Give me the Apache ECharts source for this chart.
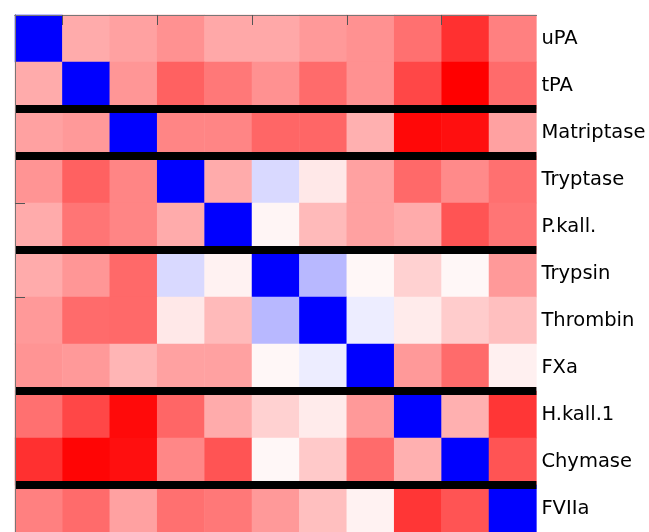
<!DOCTYPE html>
<html><head><meta charset="utf-8">
<script src="https://cdn.jsdelivr.net/npm/echarts@6/dist/echarts.min.js"></script>
<style>html,body{margin:0;padding:0;background:#fff}#c{width:649px;height:532px}</style>
</head><body><div id="c"></div>
<script>
const proteases = ['uPA','tPA','Matriptase','Tryptase','P.kall.','Trypsin','Thrombin','FXa','H.kall.1','Chymase','FVIIa'];
const row_uPA        = [-1, 0.33, 0.37, 0.43, 0.34, 0.34, 0.40, 0.43, 0.56, 0.81, 0.50];
const row_tPA        = [0.33, -1, 0.41, 0.62, 0.53, 0.43, 0.58, 0.43, 0.72, 1.00, 0.58];
const row_Matriptase = [0.37, 0.40, -1, 0.48, 0.48, 0.60, 0.60, 0.31, 0.97, 0.94, 0.37];
const row_Tryptase   = [0.42, 0.62, 0.48, -1, 0.33, -0.15, 0.09, 0.37, 0.59, 0.46, 0.56];
const row_Pkall      = [0.33, 0.54, 0.48, 0.33, -1, 0.04, 0.27, 0.37, 0.33, 0.67, 0.54];
const row_Trypsin    = [0.33, 0.41, 0.59, -0.15, 0.05, -1, -0.28, 0.03, 0.18, 0.03, 0.40];
const row_Thrombin   = [0.40, 0.58, 0.59, 0.09, 0.27, -0.28, -1, -0.07, 0.08, 0.20, 0.25];
const row_FXa        = [0.42, 0.40, 0.29, 0.37, 0.37, 0.03, -0.07, -1, 0.40, 0.58, 0.06];
const row_Hkall1     = [0.56, 0.72, 0.96, 0.60, 0.33, 0.18, 0.08, 0.40, -1, 0.31, 0.79];
const row_Chymase    = [0.81, 0.98, 0.94, 0.47, 0.67, 0.03, 0.21, 0.58, 0.31, -1, 0.67];
const row_FVIIa      = [0.50, 0.58, 0.37, 0.56, 0.53, 0.40, 0.25, 0.05, 0.79, 0.67, -1];
const groupBoundaries = [2, 3, 5, 8, 10];
const xTickPositions = [1, 3, 5, 7, 9];
const yTickPositions = [4, 6];

const rows = [row_uPA,row_tPA,row_Matriptase,row_Tryptase,row_Pkall,row_Trypsin,row_Thrombin,row_FXa,row_Hkall1,row_Chymase,row_FVIIa];
const cells = [];
rows.forEach((r, ri) => r.forEach((v, ci) => cells.push([ci, ri, v])));
const n = proteases.length;

const frame = {show: true, lineStyle: {color: '#777', width: 1}};
const noLine = {show: false};
const noLabel = {show: false};
const noSplit = {show: false};
const tickStyle = {color: '#555', width: 1};
const tickOf = (vals) => ({show: true, length: 5, lineStyle: tickStyle, customValues: vals});
// frame axes (line only)
const frameAxis = (pos, inv) => ({type: 'value', min: 0, max: n, position: pos, inverse: !!inv, zlevel: 1,
  axisLine: frame, axisTick: {show: false}, axisLabel: noLabel, splitLine: noSplit});
// tick axes shifted 5px into the plot so outward ticks end on the frame (inward ticks)
const tickAxis = (pos, vals, inv) => ({type: 'value', min: 0, max: n, position: pos, inverse: !!inv, offset: -5, zlevel: 1,
  axisLine: noLine, axisTick: tickOf(vals), axisLabel: noLabel, splitLine: noSplit});

const chart = echarts.init(document.getElementById('c'), null, {renderer: 'canvas'});
chart.setOption({
  animation: false,
  backgroundColor: '#fff',
  grid: {left: 15, top: 15, width: 521.4, height: 521.4, containLabel: false},
  xAxis: [
    frameAxis('bottom'),
    frameAxis('top'),
    tickAxis('bottom', xTickPositions),
    tickAxis('top', xTickPositions),
    {type: 'category', data: proteases, show: false}
  ],
  yAxis: [
    Object.assign(frameAxis('right', true), {
      axisLabel: {show: true, color: '#000', fontFamily: 'DejaVu Sans', fontSize: 19.5, margin: 5,
        customValues: proteases.map((p, i) => i + 0.5),
        formatter: (v) => proteases[Math.floor(v)]}}),
    frameAxis('left', true),
    tickAxis('right', yTickPositions, true),
    tickAxis('left', yTickPositions, true),
    {type: 'category', data: proteases, inverse: true, show: false}
  ],
  visualMap: {show: false, type: 'continuous', min: -1, max: 1, dimension: 2, seriesIndex: 0,
    inRange: {color: ['#0000ff', '#ffffff', '#ff0000']}},
  series: [
    {type: 'heatmap', xAxisIndex: 4, yAxisIndex: 4, data: cells,
     itemStyle: {borderWidth: 0}, emphasis: {disabled: true}, progressive: 0},
    {type: 'line', xAxisIndex: 0, yAxisIndex: 0, data: [[0, 0], [n, n]], zlevel: 2,
     symbol: 'none', lineStyle: {opacity: 0, width: 0}, silent: true,
     markLine: {symbol: 'none', silent: true, label: {show: false},
       lineStyle: {color: '#000', width: 8, type: 'solid', opacity: 1},
       data: groupBoundaries.map(v => ({yAxis: v}))}}
  ]
});
</script></body></html>
